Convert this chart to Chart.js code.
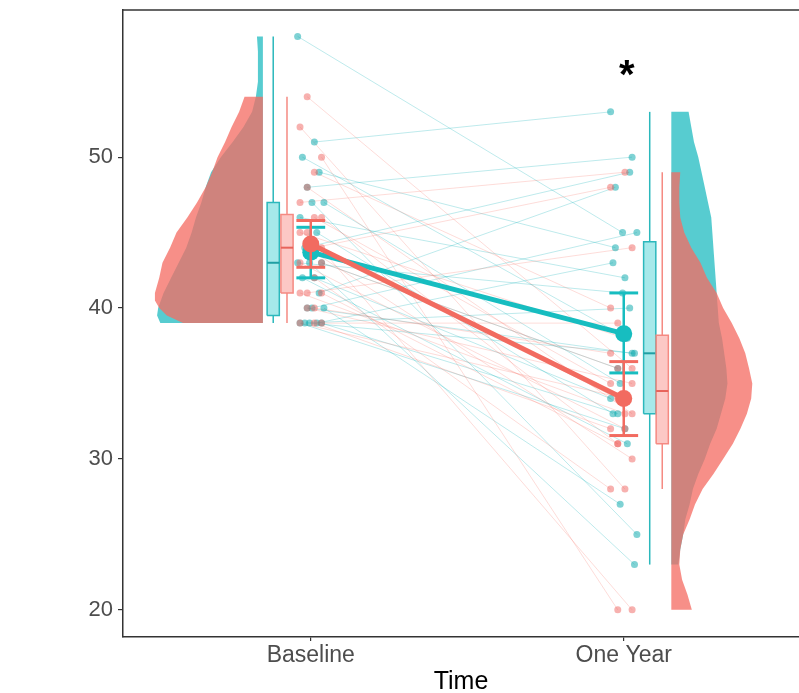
<!DOCTYPE html>
<html><head><meta charset="utf-8">
<script src="https://cdn.jsdelivr.net/npm/chart.js@4.4.0/dist/chart.umd.min.js"></script>
<style>html,body{margin:0;padding:0;background:#fff;overflow:hidden}#wrap{width:799px;height:693px}</style>
</head><body><div id="wrap"><canvas id="c" width="799" height="693"></canvas></div>
<script>
// ---------- data ----------
const timeLabels = ['Baseline', 'One Year'];
const yTickValues = [20, 30, 40, 50];
const axisTitle = 'Time';
const significanceMark = '*';

// paired individual values (same index = same subject)
const tealBaseline   = [58,51,50,49,48,47,47,46,45,44,43,43,43,42,42,41,40,40,40,39,39,39,39,39];
const tealOneYear    = [45,53,38,44,50,35,25,42,33,49,36,23,41,34,31,48,37,27,45,32,43,40,33,37];
const salmonBaseline = [54,52,50,49,48,47,46,46,45,45,44,44,44,43,43,42,41,41,41,40,40,39,39,39];
const salmonOneYear  = [36,28,20,40,33,49,31,35,20,38,34,48,30,32,36,28,44,33,31,37,35,34,39,32];

// group means and error bars, per time point
const tealMean     = [43.7, 38.3];
const tealErrLow   = [42.0, 35.7];
const tealErrHigh  = [45.35, 41.0];
const salmonMean    = [44.25, 34.0];
const salmonErrLow  = [42.7, 31.55];
const salmonErrHigh = [45.8, 36.45];

// box stats [min, q1, median, q3, max], per time point
const tealBox   = [[39, 39.5, 43, 47, 58], [23, 33, 37, 44.4, 53]];
const salmonBox = [[39, 41, 44, 46.2, 54], [28, 31, 34.5, 38.2, 49]];

// half-violin density profiles [value, relative density]
const tealDensityBaseline = [[39,0.95],[39.5,0.98],[40,0.97],[41,0.92],[42,0.85],[43,0.78],[44,0.71],[45,0.66],[46,0.62],[47,0.57],[48,0.53],[49,0.48],[50,0.39],[51,0.28],[52,0.18],[53,0.10],[54,0.065],[55,0.046],[56,0.046],[57,0.046],[58,0.055]];
const salmonDensityBaseline = [[39,0.74],[39.5,0.89],[40,0.96],[40.5,1.0],[41,1.0],[42,0.96],[43,0.93],[44,0.86],[45,0.80],[46,0.70],[47,0.61],[48,0.53],[49,0.47],[50,0.42],[51,0.35],[52,0.29],[53,0.22],[54,0.17]];
const tealDensityOneYear = [[23,0.065],[24,0.083],[25,0.11],[26,0.13],[27,0.17],[28,0.20],[29,0.25],[30,0.31],[31,0.36],[32,0.42],[33,0.46],[34,0.50],[35,0.52],[36,0.51],[37,0.49],[38,0.47],[39,0.44],[40,0.43],[41,0.42],[42,0.41],[43,0.40],[44,0.39],[45,0.38],[46,0.37],[47,0.34],[48,0.31],[49,0.28],[50,0.25],[51,0.21],[52,0.185],[53,0.16]];
const salmonDensityOneYear = [[20,0.19],[21,0.15],[22,0.10],[23,0.074],[24,0.083],[25,0.11],[26,0.17],[27,0.22],[28,0.29],[29,0.39],[30,0.48],[31,0.57],[32,0.64],[33,0.70],[34,0.74],[35,0.75],[36,0.72],[37,0.685],[38,0.63],[39,0.56],[40,0.48],[41,0.42],[42,0.33],[43,0.27],[44,0.185],[45,0.12],[46,0.083],[47,0.074],[48,0.074],[49,0.083]];

// ---------- layout / style ----------
const LAYOUT = {
  jitter: 0.042,
  violinEdge: [-0.153, 0.152],
  violinDir: [-1, 1],
  violinMaxW: 0.345,
  tealBoxOff: [-0.120, 0.083],
  salmonBoxOff: [-0.076, 0.123],
  boxHalf: 0.0195,
  capHalf: 0.046,
  starX: 2.01, starY: 56.0
};
const COL = {
  tealViolin: 'rgba(0,178,184,0.66)',
  salmonViolin: 'rgba(244,108,98,0.76)',
  tealLine: 'rgba(0,175,180,0.26)',
  salmonLine: 'rgba(248,118,109,0.26)',
  tealDot: 'rgba(0,165,170,0.5)',
  salmonDot: 'rgba(240,100,95,0.5)',
  tealBoxFill: 'rgba(0,191,196,0.35)',
  salmonBoxFill: 'rgba(248,118,109,0.4)',
  tealStroke: '#2bb8bc',
  salmonStroke: '#f58a82',
  tealMedian: '#1f9fa3',
  salmonMedian: '#e8635a',
  tealMean: '#17bdc0',
  salmonMean: '#f26b60'
};

const ds = [];
const NONE = 'rgba(0,0,0,0)';
function seg(points, color, width) {
  ds.push({type: 'line', data: points, borderColor: color, borderWidth: width, pointRadius: 0, fill: false, tension: 0});
}
function poly(points, fillColor, stroke, width) {
  ds.push({type: 'line', data: points, fill: 'shape', backgroundColor: fillColor,
    borderColor: stroke || NONE, borderWidth: width || 0.01, pointRadius: 0, tension: 0});
}
function violin(profile, t, color) {
  const edge = t + 1 + LAYOUT.violinEdge[t], dir = LAYOUT.violinDir[t];
  const pts = [{x: edge, y: profile[0][0]}];
  profile.forEach(([v, d]) => pts.push({x: edge + dir * d * LAYOUT.violinMaxW, y: v}));
  pts.push({x: edge, y: profile[profile.length - 1][0]});
  poly(pts, color);
}
function box(stats, t, off, stroke, fill, med) {
  const cx = t + 1 + off, h = LAYOUT.boxHalf;
  const [mn, q1, md, q3, mx] = stats;
  seg([{x: cx, y: mn}, {x: cx, y: q1}], stroke, 1.5);
  seg([{x: cx, y: q3}, {x: cx, y: mx}], stroke, 1.5);
  poly([{x: cx - h, y: q1}, {x: cx + h, y: q1}, {x: cx + h, y: q3}, {x: cx - h, y: q3}, {x: cx - h, y: q1}], fill, stroke, 1.5);
  seg([{x: cx - h, y: md}, {x: cx + h, y: md}], med, 2);
}
// deterministic horizontal jitter of the individual dots (layout only)
function jit(i, g, t) {
  const k = ((i * 7 + g * 4 + t * 5 + g * i * 2) % 12) / 11 - 0.5;
  return k * 2 * LAYOUT.jitter;
}
function meanGroup(mean, lo, hi, color) {
  ds.push({type: 'line', data: mean.map((m, t) => ({x: t + 1, y: m})), borderColor: color, borderWidth: 5,
    pointRadius: 0, fill: false, tension: 0});
  mean.forEach((m, t) => {
    const x = t + 1, c = LAYOUT.capHalf;
    seg([{x, y: lo[t]}, {x, y: hi[t]}], color, 2.5);
    seg([{x: x - c, y: lo[t]}, {x: x + c, y: lo[t]}], color, 3);
    seg([{x: x - c, y: hi[t]}, {x: x + c, y: hi[t]}], color, 3);
  });
  ds.push({type: 'scatter', data: mean.map((m, t) => ({x: t + 1, y: m})), backgroundColor: color,
    borderWidth: 0, pointRadius: 8.5});
}

// violins
violin(tealDensityBaseline, 0, COL.tealViolin);
violin(salmonDensityBaseline, 0, COL.salmonViolin);
violin(tealDensityOneYear, 1, COL.tealViolin);
violin(salmonDensityOneYear, 1, COL.salmonViolin);
// paired lines
tealBaseline.forEach((b, i) => seg([{x: 1 + jit(i, 0, 0), y: b}, {x: 2 + jit(i, 0, 1), y: tealOneYear[i]}], COL.tealLine, 1));
salmonBaseline.forEach((b, i) => seg([{x: 1 + jit(i, 1, 0), y: b}, {x: 2 + jit(i, 1, 1), y: salmonOneYear[i]}], COL.salmonLine, 1));
// dots
[[tealBaseline, tealOneYear, 0, COL.tealDot], [salmonBaseline, salmonOneYear, 1, COL.salmonDot]].forEach(([b, o, g, c]) => {
  const pts = [];
  b.forEach((v, i) => pts.push({x: 1 + jit(i, g, 0), y: v}));
  o.forEach((v, i) => pts.push({x: 2 + jit(i, g, 1), y: v}));
  ds.push({type: 'scatter', data: pts, backgroundColor: c, borderWidth: 0, pointRadius: 3.5});
});
// boxes
[0, 1].forEach(t => {
  box(tealBox[t], t, LAYOUT.tealBoxOff[t], COL.tealStroke, COL.tealBoxFill, COL.tealMedian);
  box(salmonBox[t], t, LAYOUT.salmonBoxOff[t], COL.salmonStroke, COL.salmonBoxFill, COL.salmonMedian);
});
// means
meanGroup(tealMean, tealErrLow, tealErrHigh, COL.tealMean);
meanGroup(salmonMean, salmonErrLow, salmonErrHigh, COL.salmonMean);

ds.forEach((d, i) => { d.order = ds.length - i; });

const FONT = '"Liberation Sans", Arial, sans-serif';
const decor = {
  id: 'decor',
  afterDraw(chart) {
    const {ctx, chartArea: a, scales} = chart;
    ctx.save();
    ctx.strokeStyle = '#333'; ctx.lineWidth = 1.5;
    ctx.beginPath(); ctx.moveTo(a.left, a.top); ctx.lineTo(a.right, a.top); ctx.stroke();
    ctx.fillStyle = '#000';
    ctx.font = 'bold 40px ' + FONT;
    ctx.textAlign = 'center'; ctx.textBaseline = 'alphabetic';
    ctx.fillText(significanceMark, scales.x.getPixelForValue(LAYOUT.starX), scales.y.getPixelForValue(LAYOUT.starY) + 21);
    ctx.restore();
  }
};

new Chart(document.getElementById('c'), {
  type: 'scatter',
  data: {datasets: ds},
  plugins: [decor],
  options: {
    responsive: false, animation: false,
    layout: {autoPadding: false, padding: {top: 10, left: 0, right: 0, bottom: 0}},
    plugins: {legend: {display: false}, tooltip: {enabled: false}},
    scales: {
      x: {
        type: 'linear', min: 0.4, max: 2.56,
        afterBuildTicks: s => { s.ticks = timeLabels.map((l, i) => ({value: i + 1})); },
        afterFit: s => { s.height = 56; s.paddingLeft = 0; s.paddingRight = 0; },
        ticks: {callback: (v, i) => timeLabels[i], color: '#4d4d4d', font: {family: FONT, size: 23}, padding: 1, maxRotation: 0, autoSkip: false},
        grid: {drawOnChartArea: false, drawTicks: true, tickLength: 4, color: '#333', lineWidth: 1.2},
        border: {display: true, color: '#333', width: 1.5},
        title: {display: true, text: axisTitle, color: '#000', font: {family: FONT, size: 25, lineHeight: 0.9}, padding: 0}
      },
      y: {
        type: 'linear', min: 18.2, max: 59.75,
        afterBuildTicks: s => { s.ticks = yTickValues.map(v => ({value: v})); },
        afterFit: s => { s.width = 123; s.paddingTop = 0; s.paddingBottom = 0; },
        ticks: {color: '#4d4d4d', font: {family: FONT, size: 22}, padding: 5},
        grid: {drawOnChartArea: false, drawTicks: true, tickLength: 5, color: '#333', lineWidth: 1.2},
        border: {display: true, color: '#333', width: 1.5}
      }
    }
  }
});
</script></body></html>
